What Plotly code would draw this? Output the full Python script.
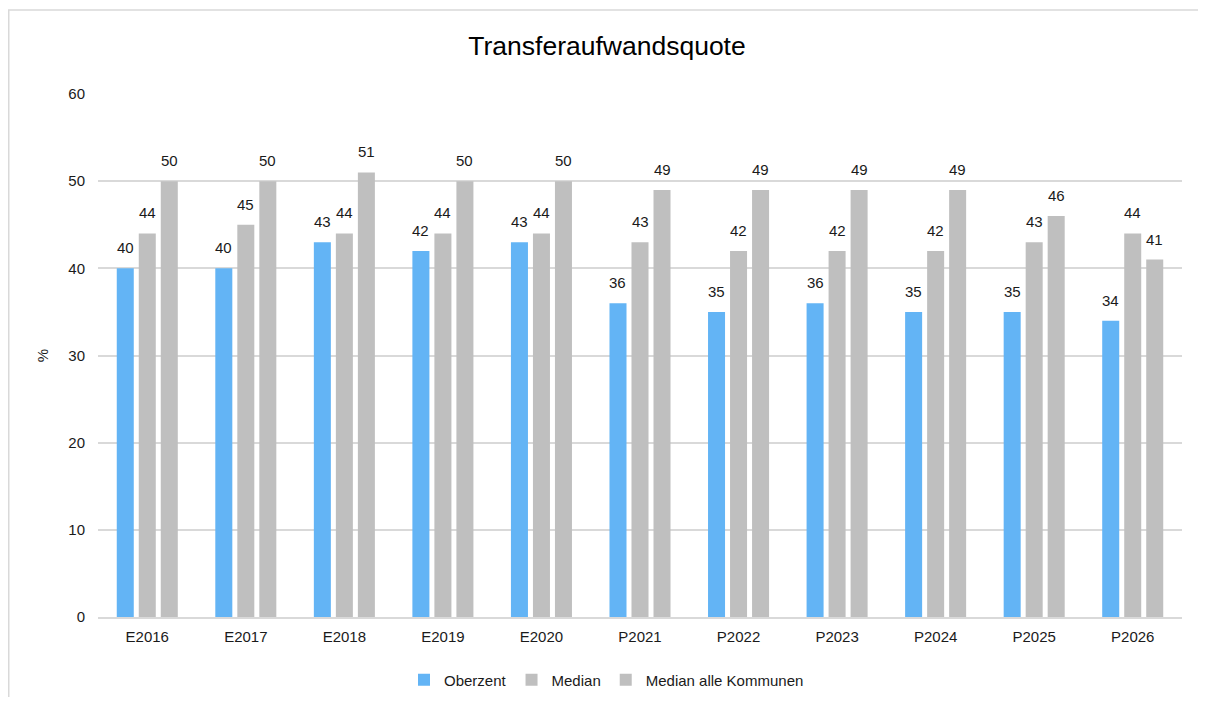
import plotly.graph_objects as go

categories = ["E2016", "E2017", "E2018", "E2019", "E2020", "P2021", "P2022", "P2023", "P2024", "P2025", "P2026"]
oberzent = [40, 40, 43, 42, 43, 36, 35, 36, 35, 35, 34]
median = [44, 45, 44, 44, 44, 43, 42, 42, 42, 43, 44]
median_alle = [50, 50, 51, 50, 50, 49, 49, 49, 49, 46, 41]

series_names = ["Oberzent", "Median", "Median alle Kommunen"]
series_colors = ["#63B4F5", "#BFBFBF", "#BFBFBF"]

FONT = "Liberation Sans, Arial, sans-serif"
TXT = "#1a1a1a"
FS = 15

# figure geometry (page has 8px body margin)
W, H = 1190, 689
L, T = 90, 86
PW, PH = 1084, 523
R = W - L - PW
B = H - T - PH
BARGAP = 0.33
BARGROUPGAP = 0.227

series = [oberzent, median, median_alle]

fig = go.Figure()
for name, vals, col in zip(series_names, series, series_colors):
    fig.add_trace(go.Bar(
        name=name, x=categories, y=vals,
        marker=dict(color=col, line=dict(width=0)),
    ))

# data labels as annotations, shifted onto each bar of the group
slot = PW / len(categories) * (1 - BARGAP) / len(series)
annotations = []
for k, vals in enumerate(series):
    for c, v in zip(categories, vals):
        annotations.append(dict(
            x=c, y=v, xref="x", yref="y", text=str(v), showarrow=False,
            xanchor="center", yanchor="bottom", xshift=(k - 1) * slot, yshift=10,
            font=dict(family=FONT, size=FS, color=TXT),
        ))

fig.update_layout(
    width=W, height=H,
    margin=dict(l=L, r=R, t=T, b=B, autoexpand=False),
    paper_bgcolor="white", plot_bgcolor="white",
    barmode="group", bargap=BARGAP, bargroupgap=BARGROUPGAP,
    font=dict(family=FONT, color=TXT, size=FS),
    title=dict(text="Transferaufwandsquote", x=599 / W, xanchor="center",
               y=1 - 38 / H, yanchor="middle", font=dict(size=26.5, color="#000000")),
    xaxis=dict(showgrid=False, showline=True, linecolor="#D9D9D9", linewidth=1.5,
               ticks="", ticklabelstandoff=5, tickfont=dict(size=FS, color=TXT)),
    yaxis=dict(range=[0, 60], dtick=10, showgrid=True, gridcolor="#D9D9D9", gridwidth=1.5,
               zeroline=False, showline=False, ticks="", ticklabelstandoff=12,
               tickfont=dict(size=FS, color=TXT),
               title=dict(text="%", font=dict(size=FS, color=TXT), standoff=16)),
    legend=dict(orientation="h", x=(598.5 - L) / PW, xanchor="center", y=-63 / PH,
                yanchor="middle", font=dict(size=FS, color=TXT), itemwidth=30,
                bgcolor="rgba(0,0,0,0)"),
    showlegend=True,
    annotations=annotations,
    shapes=[dict(type="rect", xref="paper", yref="paper",
                 x0=(0.75 - L) / PW, x1=(W + 20 - L) / PW,
                 y0=-(B + 20) / PH, y1=(T + PH - 2) / PH,
                 line=dict(color="#D9D9D9", width=1.5), fillcolor="rgba(0,0,0,0)", layer="below")],
)

fig.write_html("out.html")
